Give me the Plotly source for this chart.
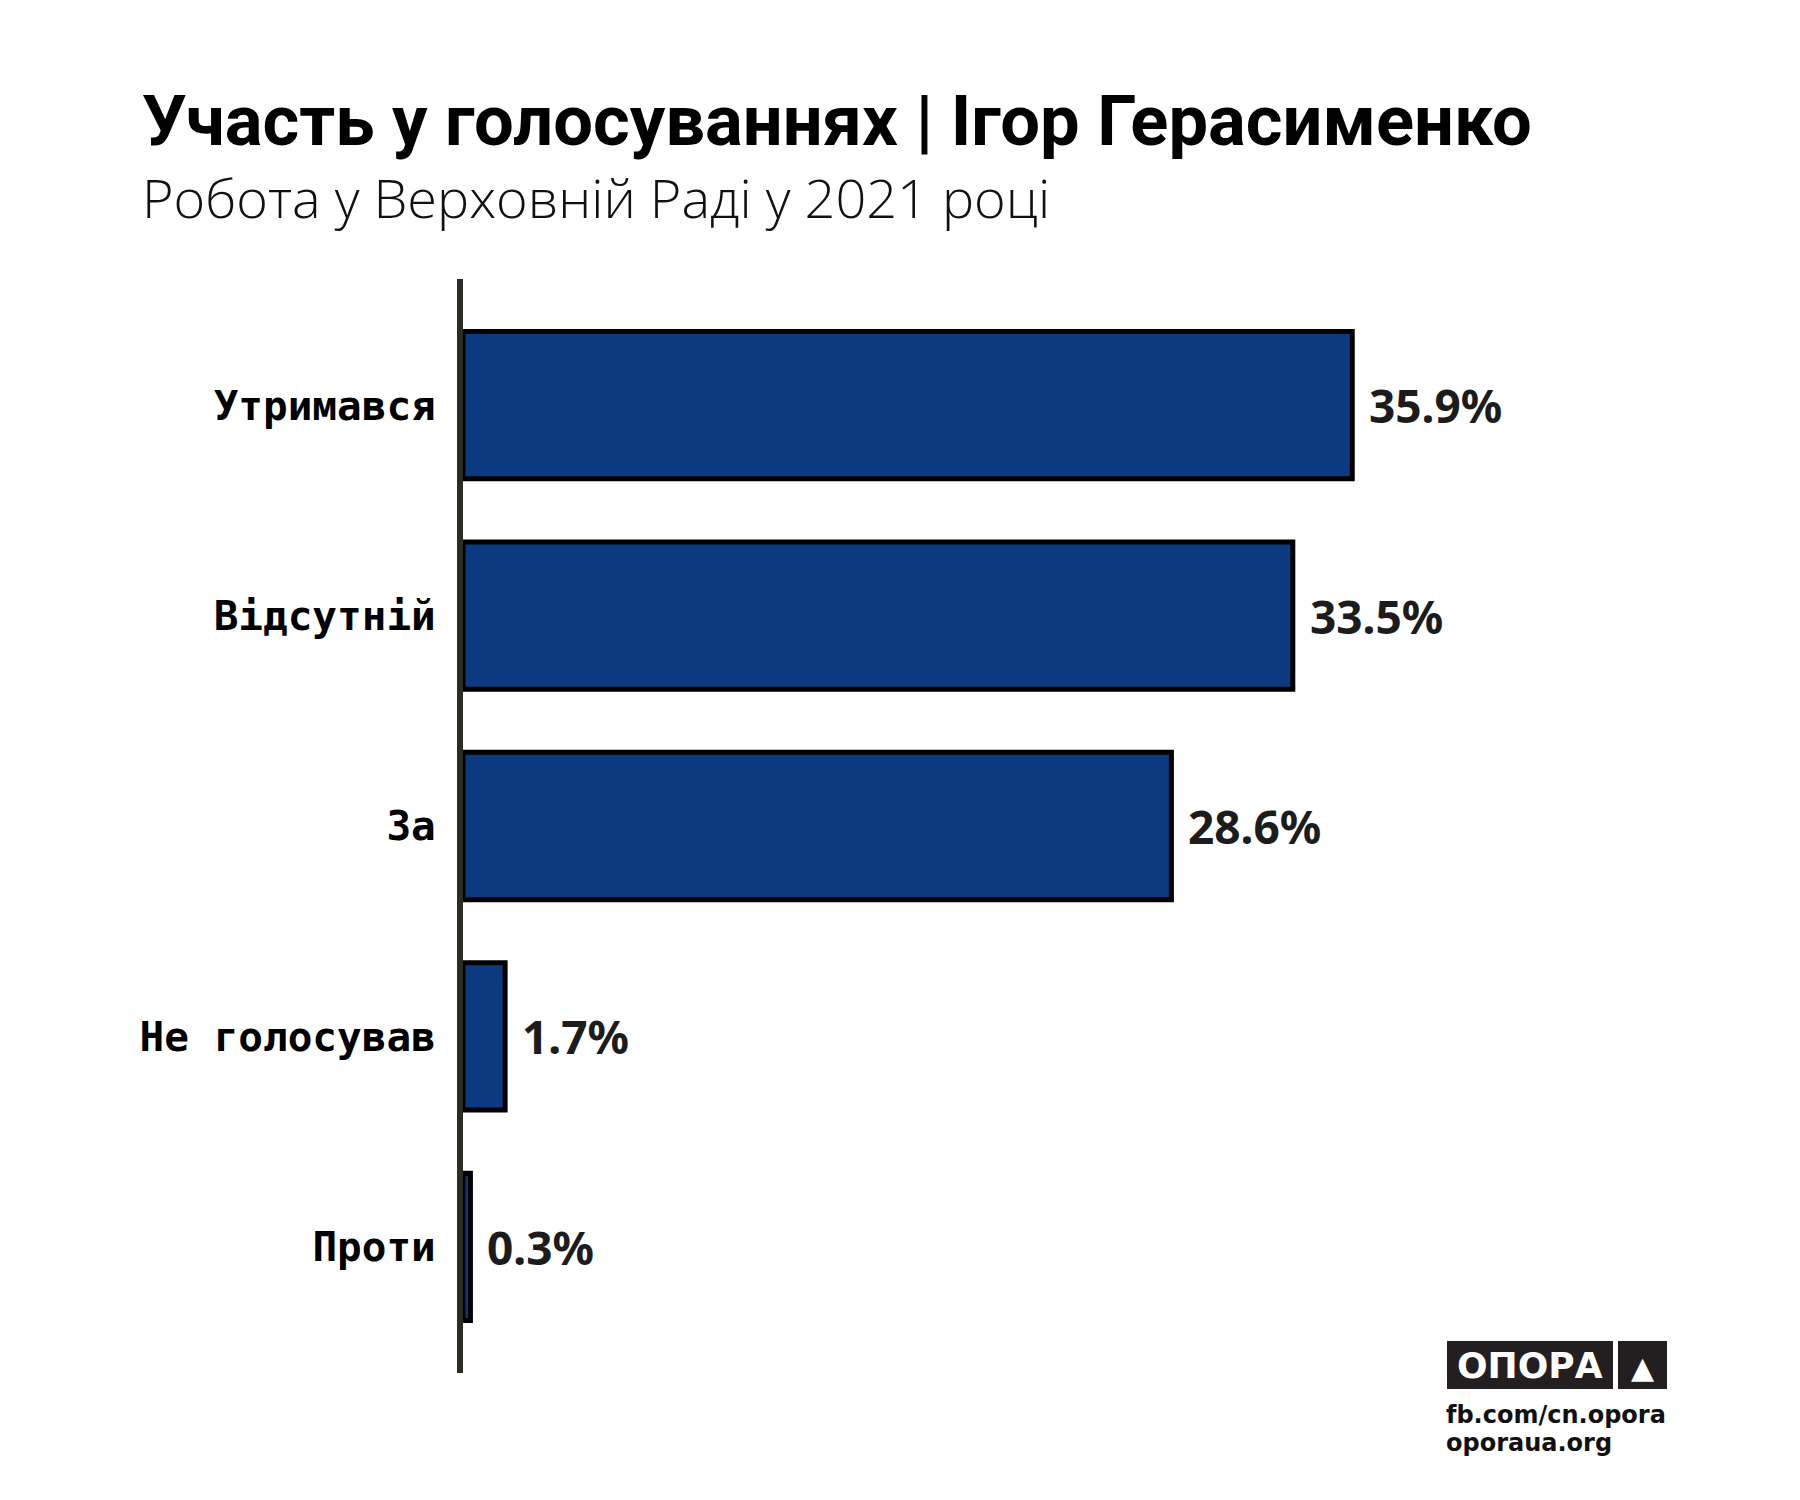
import plotly.graph_objects as go

# data
categories = ["Утримався", "Відсутній", "За", "Не голосував", "Проти"]
values = [35.9, 33.5, 28.6, 1.7, 0.3]
value_labels = ["35.9%", "33.5%", "28.6%", "1.7%", "0.3%"]

title_text = "Участь у голосуваннях | Ігор Герасименко"
subtitle_text = "Робота у Верховній Раді у 2021 році"

W, H = 1800, 1500
L, R, T, B = 455, 100, 271, 135
PLOT_W = W - L - R
PLOT_H = H - T - B
PX_PER_UNIT = 24.77

BAR_COLOR = "#0b3a81"
AXIS_COLOR = "#2b2d25"
LOGO_BG = "#231f20"


def paper_x(px):
    return (px - L) / PLOT_W


def paper_y(py):
    return (H - B - py) / PLOT_H


fig = go.Figure()

fig.add_trace(
    go.Bar(
        x=values,
        y=categories,
        orientation="h",
        marker=dict(color=BAR_COLOR, line=dict(color="black", width=5)),
        hoverinfo="skip",
        showlegend=False,
    )
)

annotations = []

# value labels next to bars
for cat, val, lab in zip(categories, values, value_labels):
    annotations.append(
        dict(
            x=val,
            y=cat,
            xref="x",
            yref="y",
            text=lab,
            showarrow=False,
            xanchor="left",
            yanchor="middle",
            xshift=15,
            font=dict(family="Noto Sans", size=46, color="#1c1c1c", weight="bold"),
        )
    )

# title + subtitle
annotations.append(
    dict(
        x=paper_x(132),
        y=paper_y(113),
        xref="paper",
        yref="paper",
        text=title_text,
        showarrow=False,
        xanchor="left",
        yanchor="middle",
        font=dict(family="Roboto", size=70.5, color="black", weight="bold"),
    )
)
annotations.append(
    dict(
        x=paper_x(132),
        y=paper_y(189),
        xref="paper",
        yref="paper",
        text=subtitle_text,
        showarrow=False,
        xanchor="left",
        yanchor="middle",
        font=dict(family="Open Sans", size=54, color="#111111", weight=300),
    )
)

# logo block
annotations.append(
    dict(
        x=paper_x(1522),
        y=paper_y(1357),
        xref="paper",
        yref="paper",
        text="ОПОРА",
        showarrow=False,
        xanchor="center",
        yanchor="middle",
        font=dict(family="DejaVu Sans", size=36, color="white", weight="bold"),
    )
)
annotations.append(
    dict(
        x=paper_x(1634),
        y=paper_y(1359),
        xref="paper",
        yref="paper",
        text="▲",
        showarrow=False,
        xanchor="center",
        yanchor="middle",
        font=dict(family="DejaVu Sans", size=30, color="white"),
    )
)
for txt, ypx in [("fb.com/cn.opora", 1407), ("oporaua.org", 1435)]:
    annotations.append(
        dict(
            x=paper_x(1436),
            y=paper_y(ypx),
            xref="paper",
            yref="paper",
            text=txt,
            showarrow=False,
            xanchor="left",
            yanchor="middle",
            height=28,
            font=dict(family="DejaVu Sans", size=24, color="#111111", weight="bold"),
        )
    )

shapes = [
    dict(
        type="rect",
        xref="paper",
        yref="paper",
        x0=paper_x(1439),
        x1=paper_x(1605),
        y0=paper_y(1381),
        y1=paper_y(1333),
        fillcolor=LOGO_BG,
        line=dict(width=0),
        layer="below",
    ),
    dict(
        type="rect",
        xref="paper",
        yref="paper",
        x0=paper_x(1610),
        x1=paper_x(1659),
        y0=paper_y(1381),
        y1=paper_y(1333),
        fillcolor=LOGO_BG,
        line=dict(width=0),
        layer="below",
    ),
]

fig.update_layout(
    width=W,
    height=H,
    margin=dict(l=L, r=R, t=T, b=B),
    paper_bgcolor="white",
    plot_bgcolor="white",
    bargap=0.30,
    annotations=annotations,
    shapes=shapes,
    xaxis=dict(
        range=[0, PLOT_W / PX_PER_UNIT],
        visible=False,
        fixedrange=True,
    ),
    yaxis=dict(
        range=[4.6, -0.6],
        showline=True,
        linecolor=AXIS_COLOR,
        linewidth=6,
        showgrid=False,
        zeroline=False,
        ticks="",
        ticklabelstandoff=13,
        tickfont=dict(family="DejaVu Sans Mono", size=41, color="black", weight="bold"),
        fixedrange=True,
    ),
)

fig.write_html("out.html")
